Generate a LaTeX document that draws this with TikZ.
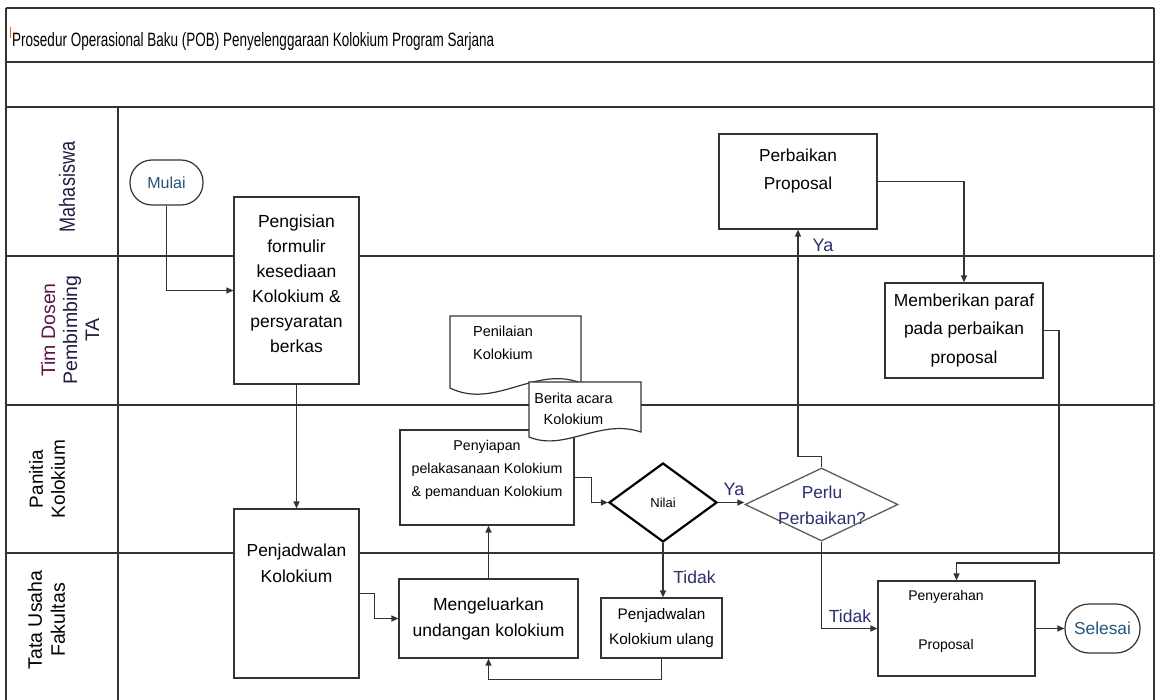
\documentclass[tikz,border=0pt]{standalone}
\usepackage{fontspec}
\setmainfont{Liberation Sans}
\newfontfamily\condfont[FakeStretch=0.7]{Liberation Sans}
\newfontfamily\lanefont[FakeStretch=0.82]{Liberation Sans}
\usetikzlibrary{arrows.meta,shapes.geometric}
\definecolor{ln}{HTML}{333333}
\definecolor{lbl}{HTML}{2B2F6E}
\definecolor{mul}{HTML}{24557A}
\definecolor{lanecA}{HTML}{231C45}
\definecolor{lanecB}{HTML}{5B1646}
\newcommand\myfs[2]{\fontsize{#1}{#2}\selectfont}
\tikzset{
  lanel/.style={draw=ln,line width=1.5pt},
  box/.style={draw=ln,line width=1.2pt,fill=white,inner sep=0pt,align=center},
  txt/.style={inner sep=0pt,align=center},
  doc/.style={draw=ln,line width=1.2pt,fill=white},
  arr/.style={draw=ln,line width=1.3pt,-{Triangle[length=7pt,width=6pt]}},
  lab/.style={inner sep=0pt,text=lbl,font=\myfs{17.5}{20}},
  lanetxt/.style={inner sep=0pt,align=center,rotate=90}
}
\begin{document}
\begin{tikzpicture}[x=1pt,y=-1pt]
\useasboundingbox (0,0) rectangle (1156,700);
\fill[white] (0,0) rectangle (1156,700);
% frame and lanes
\draw[lanel] (6,8) -- (1154,8);
\draw[lanel] (6,8) -- (6,700);
\draw[lanel] (1154,8) -- (1154,700);
\foreach \yy in {62,107,256,405,553} \draw[lanel] (6,\yy) -- (1154,\yy);
\draw[lanel] (118,107) -- (118,700);
\draw[orange!80!red,line width=1pt] (10,27) -- (10,38);
\node[anchor=base west,inner sep=0pt,font=\condfont\myfs{19.3}{22}] (title) at (12,46.5) {Prosedur Operasional Baku (POB) Penyelenggaraan Kolokium Program Sarjana};
% lane labels
\node[lanetxt,text=lanecA,font=\lanefont\myfs{22}{24}] (lmhs) at (67,187) {Mahasiswa};
\node[lanetxt,font=\myfs{19.5}{22}] (ldos) at (70,330) {\textcolor{lanecB}{Tim Dosen}\\\textcolor{lanecA}{Pembimbing}\\\textcolor{lanecA}{TA}};
\node[lanetxt,font=\myfs{19}{22}] (lpan) at (47,479) {Panitia\\Kolokium};
\node[lanetxt,font=\myfs{19.5}{23}] (ltu) at (46.5,620) {Tata Usaha\\Fakultas};
% nodes
\node[box,minimum width=73pt,minimum height=45pt,rounded corners=22pt,text=mul,font=\myfs{16}{18}] (mulai) at (166.5,182.5) {Mulai};
\node[box,minimum width=125pt,minimum height=187pt] (isi) at (296.5,290.5) {};
\node[txt,font=\myfs{17.5}{25}] (isit) at (296.5,284) {Pengisian\\formulir\\kesediaan\\Kolokium \&\\persyaratan\\berkas};
\node[box,minimum width=125pt,minimum height=169pt] (jadw) at (296.5,593.5) {};
\node[txt,font=\myfs{17.4}{26}] (jadwt) at (296.5,563) {Penjadwalan\\Kolokium};
\node[box,minimum width=179pt,minimum height=79pt,font=\myfs{17.5}{26}] (keluar) at (488.5,618.5) {Mengeluarkan\\undangan kolokium};
\node[box,minimum width=174pt,minimum height=95pt] (siap) at (487,477.5) {};
\node[txt,font=\myfs{14.2}{23}] (siapt) at (487,470) {Penyiapan\\pelakasanaan Kolokium\\\& pemanduan Kolokium};
% documents
\draw[doc] (450,316) -- (581,316) -- (581,383) .. controls (535,365) and (495,410) .. (450,388) -- cycle;
\node[txt,font=\myfs{14.5}{23}] (nilaidoc) at (503,343) {Penilaian\\Kolokium};
\draw[doc] (529,382) -- (641,382) -- (641,432) .. controls (600,418) and (565,452) .. (529,437) -- cycle;
\node[txt,font=\myfs{14.5}{21}] (berita) at (573.5,409) {Berita acara\\Kolokium};
% decisions
\node[draw=black,line width=2.2pt,fill=white,diamond,minimum width=108pt,minimum height=79pt,inner sep=0pt,font=\myfs{13}{15}] (nilai) at (663,502.5) {Nilai};
\node[draw=ln!80,line width=1.3pt,fill=white,diamond,minimum width=153pt,minimum height=73pt,inner sep=0pt] (perlu) at (821.5,504.5) {};
\node[txt,text=lbl,font=\myfs{17.3}{26}] (perlut) at (822,505) {Perlu\\Perbaikan?};
\node[box,minimum width=121pt,minimum height=60pt,font=\myfs{15.3}{25}] (ulang) at (661.5,628) {Penjadwalan\\Kolokium ulang};
\node[box,minimum width=158pt,minimum height=95pt] (perbaikan) at (798,181.5) {};
\node[txt,font=\myfs{17.3}{28}] (perbaikant) at (798,171) {Perbaikan\\Proposal};
\node[box,minimum width=158pt,minimum height=95pt,font=\myfs{17.4}{28.5}] (memberi) at (964,330.5) {Memberikan paraf\\pada perbaikan\\proposal};
\node[box,minimum width=157pt,minimum height=95pt] (serah) at (956.5,628.5) {};
\node[txt,font=\myfs{14}{49}] (seraht) at (946,621) {Penyerahan\\Proposal};
\node[box,minimum width=75pt,minimum height=49pt,rounded corners=24pt,text=mul,font=\myfs{17.3}{20}] (selesai) at (1102.5,628.5) {Selesai};
% connectors
\draw[arr] (mulai.south) |- (isi.west);
\draw[arr] (isi.south) -- (jadw.north);
\draw[arr] (jadw.east) -- ++(15,0) |- (keluar.west);
\draw[arr] (keluar.north) -- (keluar.north |- siap.south);
\draw[arr] (siap.east) -- ++(17,0) |- (nilai.west);
\draw[arr] (nilai.east) -- (nilai.east -| perlu.west);
\draw[arr] (nilai.south) -- (nilai.south |- ulang.north);
\draw[arr] (ulang.south) -- ++(0,21) -| (keluar.south);
\draw[arr] (perlu.south) |- (serah.west);
\draw[arr] (perlu.north) -- ++(0,-11) -| (perbaikan.south);
\draw[arr] (perbaikan.east) -| (memberi.north);
\coordinate (c12) at (1059,563);
\draw[arr] (memberi.east) -| (c12) -| (serah.north);
\draw[arr] (serah.east) -- (selesai.west);
% labels
\node[lab,font=\myfs{18}{20}] (ya1) at (734,489.5) {Ya};
\node[lab] (tidak1) at (694.5,577) {Tidak};
\node[lab] (tidak2) at (850,616) {Tidak};
\node[lab,font=\myfs{18}{20}] (ya2) at (823,245) {Ya};
\end{tikzpicture}
\end{document}
